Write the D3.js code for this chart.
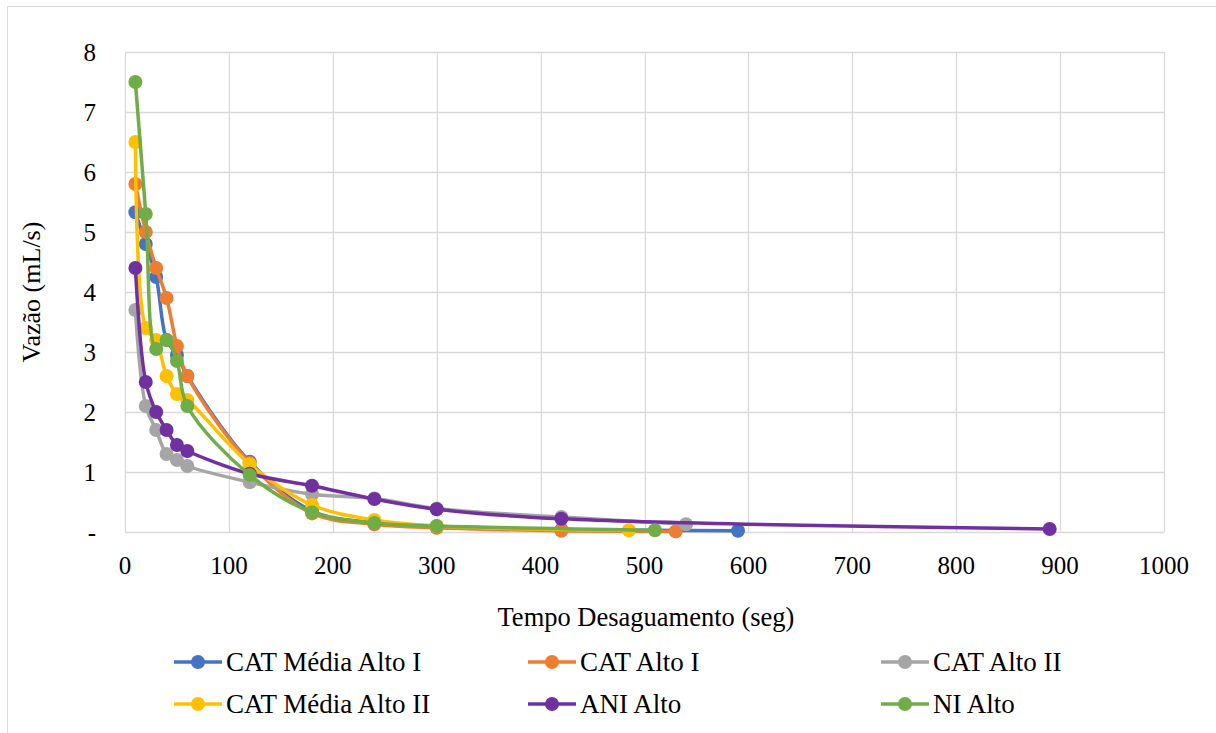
<!DOCTYPE html>
<html>
<head>
<meta charset="utf-8">
<script src="https://cdn.jsdelivr.net/npm/d3@7"></script>
<style>
  body { margin: 0; background: #fff; }
</style>
</head>
<body>
<script>
// series names (legend order)
const seriesNames = ["CAT Média Alto I", "CAT Alto I", "CAT Alto II", "CAT Média Alto II", "ANI Alto", "NI Alto"];

// time (seg) and flow (mL/s) for each series
const tempoCatMediaAltoI = [10, 20, 30, 40, 50, 60, 120, 180, 240, 300, 420, 590];
const vazaoCatMediaAltoI = [5.33, 4.8, 4.25, 3.2, 2.95, 2.6, 1.17, 0.35, 0.15, 0.08, 0.04, 0.02];

const tempoCatAltoI = [10, 20, 30, 40, 50, 60, 120, 180, 240, 300, 420, 530];
const vazaoCatAltoI = [5.8, 5.0, 4.4, 3.9, 3.1, 2.6, 1.15, 0.31, 0.13, 0.07, 0.02, 0.01];

const tempoCatAltoII = [10, 20, 30, 40, 50, 60, 120, 180, 240, 300, 420, 540];
const vazaoCatAltoII = [3.7, 2.1, 1.7, 1.3, 1.2, 1.1, 0.83, 0.63, 0.56, 0.39, 0.25, 0.13];

const tempoCatMediaAltoII = [10, 20, 30, 40, 50, 60, 120, 180, 240, 300, 485];
const vazaoCatMediaAltoII = [6.5, 3.4, 3.2, 2.6, 2.3, 2.2, 1.13, 0.45, 0.2, 0.1, 0.03];

const tempoAniAlto = [10, 20, 30, 40, 50, 60, 120, 180, 240, 300, 420, 890];
const vazaoAniAlto = [4.4, 2.5, 2.0, 1.7, 1.45, 1.35, 0.97, 0.77, 0.55, 0.38, 0.22, 0.05];

const tempoNiAlto = [10, 20, 30, 40, 50, 60, 120, 180, 240, 300, 510];
const vazaoNiAlto = [7.5, 5.3, 3.05, 3.2, 2.85, 2.1, 0.95, 0.33, 0.15, 0.1, 0.03];

const xTicks = [0, 100, 200, 300, 400, 500, 600, 700, 800, 900, 1000];
const yTicks = [0, 1, 2, 3, 4, 5, 6, 7, 8];

const colors = ["#4472C4", "#ED7D31", "#A5A5A5", "#FFC000", "#7030A0", "#70AD47"];

// build series
const tempos = [tempoCatMediaAltoI, tempoCatAltoI, tempoCatAltoII, tempoCatMediaAltoII, tempoAniAlto, tempoNiAlto];
const vazoes = [vazaoCatMediaAltoI, vazaoCatAltoI, vazaoCatAltoII, vazaoCatMediaAltoII, vazaoAniAlto, vazaoNiAlto];
const series = seriesNames.map((name, i) => ({
  name: name,
  color: colors[i],
  points: tempos[i].map((t, j) => ({ t: t, v: vazoes[i][j] }))
}));

const width = 1216;
const height = 733;
const margin = { left: 125, right: 52, top: 52, bottom: 201 };
const font = "'Liberation Serif', 'Times New Roman', Times, serif";

const svg = d3.select("body").append("svg")
  .attr("width", width)
  .attr("height", height)
  .attr("font-family", font)
  .style("font-family", font);

// chart area border (cropped at right and bottom)
svg.append("rect")
  .attr("x", 7.5)
  .attr("y", 6.5)
  .attr("width", 1240)
  .attr("height", 760)
  .attr("fill", "none")
  .attr("stroke", "#d9d9d9")
  .attr("stroke-width", 1);

const x = d3.scaleLinear()
  .domain([0, 1000])
  .range([margin.left, width - margin.right]);

const y = d3.scaleLinear()
  .domain([0, 8])
  .range([height - margin.bottom, margin.top]);

// gridlines
svg.append("g")
  .selectAll("line")
  .data(yTicks)
  .join("line")
  .attr("x1", x(0))
  .attr("x2", x(1000))
  .attr("y1", d => Math.round(y(d)) + 0.5)
  .attr("y2", d => Math.round(y(d)) + 0.5)
  .attr("stroke", "#d9d9d9")
  .attr("stroke-width", 1.3);

svg.append("g")
  .selectAll("line")
  .data(xTicks)
  .join("line")
  .attr("x1", d => Math.round(x(d)) + 0.5)
  .attr("x2", d => Math.round(x(d)) + 0.5)
  .attr("y1", y(0))
  .attr("y2", y(8))
  .attr("stroke", "#d9d9d9")
  .attr("stroke-width", 1.3);

// tick labels
svg.append("g")
  .selectAll("text")
  .data(yTicks)
  .join("text")
  .attr("x", 96)
  .attr("y", d => y(d))
  .attr("dy", "0.35em")
  .attr("text-anchor", "end")
  .attr("font-size", 25)
  .text(d => d === 0 ? "-" : d);

svg.append("g")
  .selectAll("text")
  .data(xTicks)
  .join("text")
  .attr("x", d => x(d))
  .attr("y", 574)
  .attr("text-anchor", "middle")
  .attr("font-size", 25)
  .text(d => d);

// axis titles
svg.append("text")
  .attr("x", 646)
  .attr("y", 626)
  .attr("text-anchor", "middle")
  .attr("font-size", 26.5)
  .text("Tempo Desaguamento (seg)");

svg.append("text")
  .attr("transform", "translate(40,292) rotate(-90)")
  .attr("text-anchor", "middle")
  .attr("font-size", 26)
  .text("Vazão (mL/s)");

// lines + markers
const line = d3.line()
  .x(d => x(d.t))
  .y(d => y(d.v))
  .curve(d3.curveCatmullRom.alpha(0.5));

series.forEach(s => {
  const g = svg.append("g");
  g.append("path")
    .datum(s.points)
    .attr("d", line)
    .attr("fill", "none")
    .attr("stroke", s.color)
    .attr("stroke-width", 3.5)
    .attr("stroke-linejoin", "round");
  g.selectAll("circle")
    .data(s.points)
    .join("circle")
    .attr("cx", d => x(d.t))
    .attr("cy", d => y(d.v))
    .attr("r", 7)
    .attr("fill", s.color);
});

// legend
const legendCols = [174, 528, 881];
const legendRows = [662, 704];

const legend = svg.append("g")
  .selectAll("g")
  .data(series)
  .join("g")
  .attr("transform", (d, i) => `translate(${legendCols[i % 3]},${legendRows[Math.floor(i / 3)]})`);

legend.append("line")
  .attr("x1", 0)
  .attr("x2", 48)
  .attr("stroke", d => d.color)
  .attr("stroke-width", 3.5);

legend.append("circle")
  .attr("cx", 24)
  .attr("r", 7)
  .attr("fill", d => d.color);

legend.append("text")
  .attr("x", 52)
  .attr("dy", "0.35em")
  .attr("font-size", 27)
  .text(d => d.name);
</script>
</body>
</html>
